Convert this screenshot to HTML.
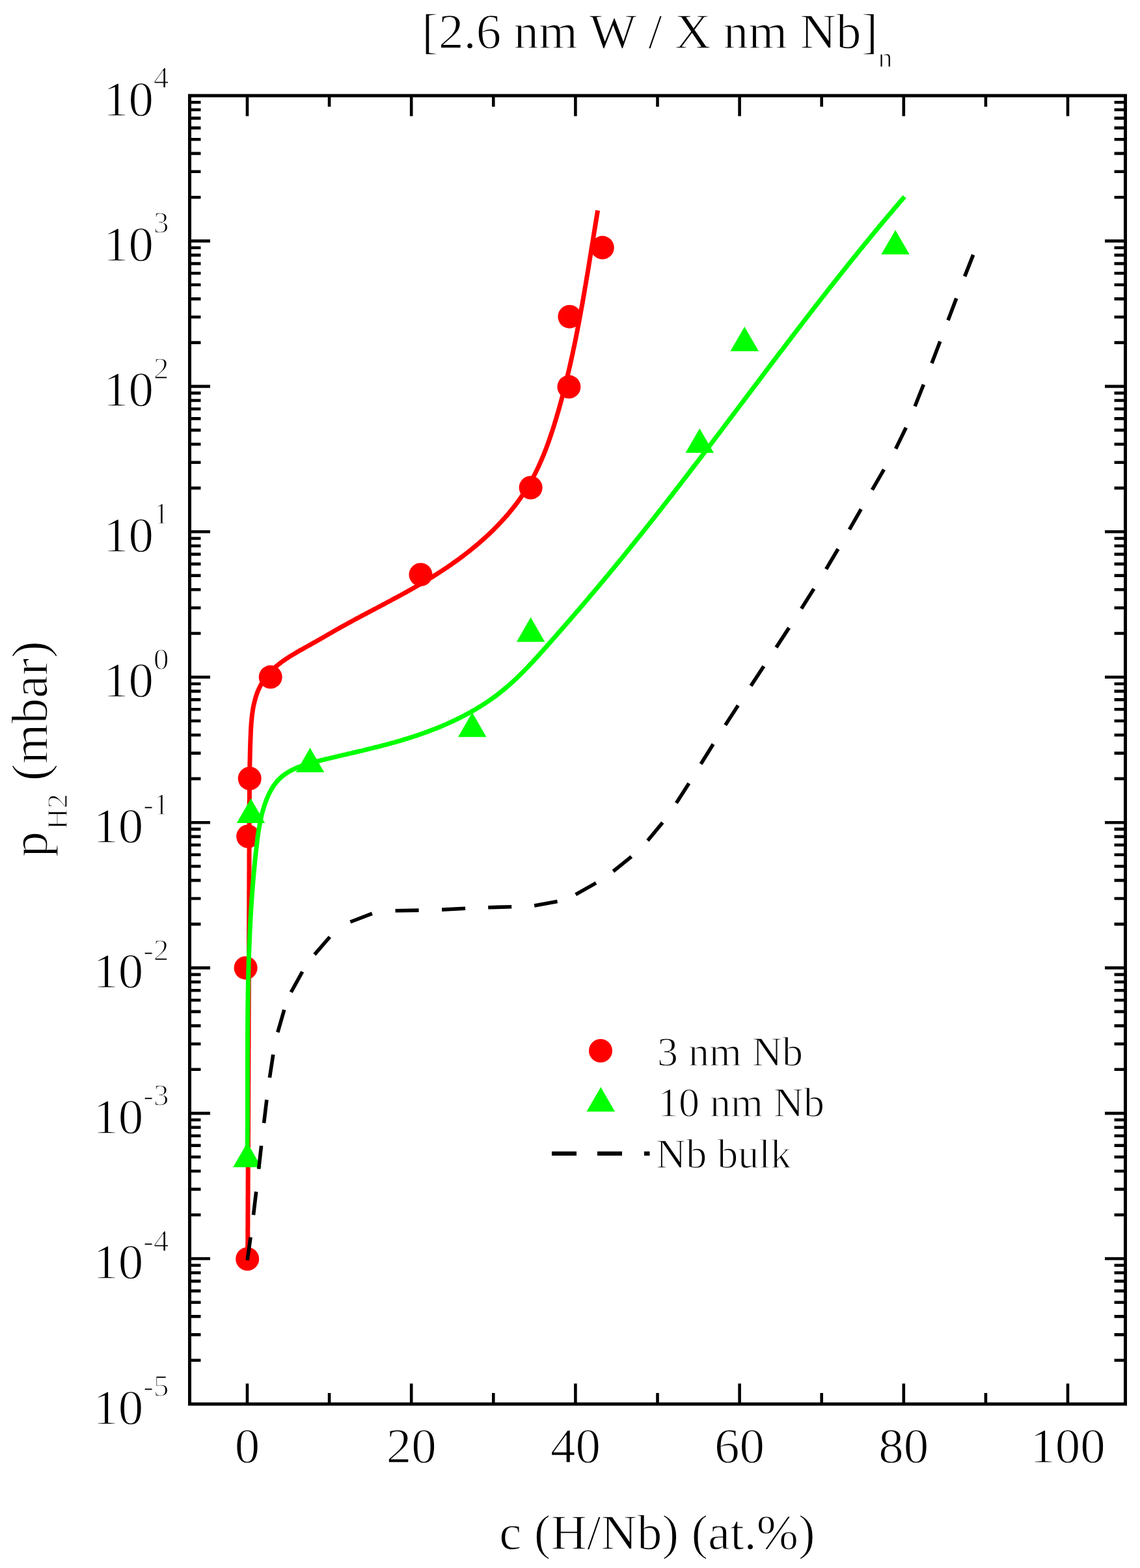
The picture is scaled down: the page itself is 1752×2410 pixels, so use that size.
<!DOCTYPE html>
<html><head><meta charset="utf-8"><title>[2.6 nm W / X nm Nb]n</title>
<style>
html,body{margin:0;padding:0;background:#fff;}
svg{display:block;}
text{font-family:"Liberation Serif","Times New Roman",serif;fill:#000;stroke:#fff;stroke-width:1.3px;paint-order:fill stroke;}
</style></head><body>
<svg xmlns="http://www.w3.org/2000/svg" width="1752" height="2410" viewBox="0 0 1752 2410">
<rect x="0" y="0" width="1752" height="2410" fill="#ffffff"/>
<path d="M293.5,2090.7H308.5 M1727.5,2090.7H1712.5 M293.5,2051.4H308.5 M1727.5,2051.4H1712.5 M293.5,2023.4H308.5 M1727.5,2023.4H1712.5 M293.5,2001.8H308.5 M1727.5,2001.8H1712.5 M293.5,1984.1H308.5 M1727.5,1984.1H1712.5 M293.5,1969.1H308.5 M1727.5,1969.1H1712.5 M293.5,1956.2H308.5 M1727.5,1956.2H1712.5 M293.5,1944.7H308.5 M1727.5,1944.7H1712.5 M293.5,1934.5H323.0 M1727.5,1934.5H1698.0 M293.5,1867.3H308.5 M1727.5,1867.3H1712.5 M293.5,1827.9H308.5 M1727.5,1827.9H1712.5 M293.5,1800.0H308.5 M1727.5,1800.0H1712.5 M293.5,1778.3H308.5 M1727.5,1778.3H1712.5 M293.5,1760.6H308.5 M1727.5,1760.6H1712.5 M293.5,1745.7H308.5 M1727.5,1745.7H1712.5 M293.5,1732.7H308.5 M1727.5,1732.7H1712.5 M293.5,1721.3H308.5 M1727.5,1721.3H1712.5 M293.5,1711.1H323.0 M1727.5,1711.1H1698.0 M293.5,1643.8H308.5 M1727.5,1643.8H1712.5 M293.5,1604.5H308.5 M1727.5,1604.5H1712.5 M293.5,1576.6H308.5 M1727.5,1576.6H1712.5 M293.5,1554.9H308.5 M1727.5,1554.9H1712.5 M293.5,1537.2H308.5 M1727.5,1537.2H1712.5 M293.5,1522.3H308.5 M1727.5,1522.3H1712.5 M293.5,1509.3H308.5 M1727.5,1509.3H1712.5 M293.5,1497.9H308.5 M1727.5,1497.9H1712.5 M293.5,1487.6H323.0 M1727.5,1487.6H1698.0 M293.5,1420.4H308.5 M1727.5,1420.4H1712.5 M293.5,1381.0H308.5 M1727.5,1381.0H1712.5 M293.5,1353.1H308.5 M1727.5,1353.1H1712.5 M293.5,1331.5H308.5 M1727.5,1331.5H1712.5 M293.5,1313.8H308.5 M1727.5,1313.8H1712.5 M293.5,1298.8H308.5 M1727.5,1298.8H1712.5 M293.5,1285.9H308.5 M1727.5,1285.9H1712.5 M293.5,1274.4H308.5 M1727.5,1274.4H1712.5 M293.5,1264.2H323.0 M1727.5,1264.2H1698.0 M293.5,1196.9H308.5 M1727.5,1196.9H1712.5 M293.5,1157.6H308.5 M1727.5,1157.6H1712.5 M293.5,1129.7H308.5 M1727.5,1129.7H1712.5 M293.5,1108.0H308.5 M1727.5,1108.0H1712.5 M293.5,1090.3H308.5 M1727.5,1090.3H1712.5 M293.5,1075.4H308.5 M1727.5,1075.4H1712.5 M293.5,1062.4H308.5 M1727.5,1062.4H1712.5 M293.5,1051.0H308.5 M1727.5,1051.0H1712.5 M293.5,1040.8H323.0 M1727.5,1040.8H1698.0 M293.5,973.5H308.5 M1727.5,973.5H1712.5 M293.5,934.2H308.5 M1727.5,934.2H1712.5 M293.5,906.2H308.5 M1727.5,906.2H1712.5 M293.5,884.6H308.5 M1727.5,884.6H1712.5 M293.5,866.9H308.5 M1727.5,866.9H1712.5 M293.5,851.9H308.5 M1727.5,851.9H1712.5 M293.5,839.0H308.5 M1727.5,839.0H1712.5 M293.5,827.5H308.5 M1727.5,827.5H1712.5 M293.5,817.3H323.0 M1727.5,817.3H1698.0 M293.5,750.1H308.5 M1727.5,750.1H1712.5 M293.5,710.7H308.5 M1727.5,710.7H1712.5 M293.5,682.8H308.5 M1727.5,682.8H1712.5 M293.5,661.1H308.5 M1727.5,661.1H1712.5 M293.5,643.4H308.5 M1727.5,643.4H1712.5 M293.5,628.5H308.5 M1727.5,628.5H1712.5 M293.5,615.5H308.5 M1727.5,615.5H1712.5 M293.5,604.1H308.5 M1727.5,604.1H1712.5 M293.5,593.9H323.0 M1727.5,593.9H1698.0 M293.5,526.6H308.5 M1727.5,526.6H1712.5 M293.5,487.3H308.5 M1727.5,487.3H1712.5 M293.5,459.4H308.5 M1727.5,459.4H1712.5 M293.5,437.7H308.5 M1727.5,437.7H1712.5 M293.5,420.0H308.5 M1727.5,420.0H1712.5 M293.5,405.1H308.5 M1727.5,405.1H1712.5 M293.5,392.1H308.5 M1727.5,392.1H1712.5 M293.5,380.7H308.5 M1727.5,380.7H1712.5 M293.5,370.4H323.0 M1727.5,370.4H1698.0 M293.5,303.2H308.5 M1727.5,303.2H1712.5 M293.5,263.8H308.5 M1727.5,263.8H1712.5 M293.5,235.9H308.5 M1727.5,235.9H1712.5 M293.5,214.3H308.5 M1727.5,214.3H1712.5 M293.5,196.6H308.5 M1727.5,196.6H1712.5 M293.5,181.6H308.5 M1727.5,181.6H1712.5 M293.5,168.7H308.5 M1727.5,168.7H1712.5 M293.5,157.2H308.5 M1727.5,157.2H1712.5 M380.0,2156.0V2126.5 M380.0,149.0V178.5 M506.1,2156.0V2141.0 M506.1,149.0V164.0 M632.2,2156.0V2126.5 M632.2,149.0V178.5 M758.3,2156.0V2141.0 M758.3,149.0V164.0 M884.4,2156.0V2126.5 M884.4,149.0V178.5 M1010.5,2156.0V2141.0 M1010.5,149.0V164.0 M1136.6,2156.0V2126.5 M1136.6,149.0V178.5 M1262.7,2156.0V2141.0 M1262.7,149.0V164.0 M1388.8,2156.0V2126.5 M1388.8,149.0V178.5 M1514.9,2156.0V2141.0 M1514.9,149.0V164.0 M1641.0,2156.0V2126.5 M1641.0,149.0V178.5" stroke="#000" stroke-width="4.6" fill="none"/>
<path d="M380.6,1934.9L380.6,1932.4 380.7,1929.9 380.7,1927.4 380.7,1924.9 380.7,1922.4 380.7,1919.9 380.7,1917.4 380.7,1914.9 380.7,1912.4 380.7,1909.9 380.8,1907.4 380.8,1904.9 380.8,1902.4 380.8,1899.9 380.8,1897.4 380.8,1894.9 380.8,1892.4 380.8,1889.9 380.8,1887.4 380.9,1884.9 380.9,1882.4 380.9,1879.9 380.9,1877.4 380.9,1874.9 380.9,1872.4 380.9,1869.9 380.9,1867.4 380.9,1864.9 380.9,1862.4 381.0,1859.9 381.0,1857.4 381.0,1854.9 381.0,1852.4 381.0,1849.9 381.0,1847.4 381.0,1844.9 381.0,1842.4 381.0,1839.9 381.1,1837.4 381.1,1834.9 381.1,1832.4 381.1,1829.9 381.1,1827.4 381.1,1824.9 381.1,1822.4 381.1,1819.9 381.1,1817.4 381.1,1814.9 381.2,1812.4 381.2,1809.9 381.2,1807.4 381.2,1804.9 381.2,1802.4 381.2,1799.9 381.2,1797.4 381.2,1794.9 381.2,1792.4 381.3,1789.9 381.3,1787.4 381.3,1784.9 381.3,1782.4 381.3,1779.9 381.3,1777.4 381.3,1774.9 381.3,1772.4 381.3,1769.9 381.3,1767.4 381.4,1764.9 381.4,1762.4 381.4,1759.9 381.4,1757.4 381.4,1754.9 381.4,1752.4 381.4,1749.9 381.4,1747.4 381.4,1744.9 381.4,1742.4 381.5,1739.9 381.5,1737.4 381.5,1734.9 381.5,1732.4 381.5,1729.9 381.5,1727.4 381.5,1724.9 381.5,1722.4 381.5,1719.9 381.5,1717.4 381.6,1714.9 381.6,1712.4 381.6,1709.9 381.6,1707.4 381.6,1704.9 381.6,1702.4 381.6,1699.9 381.6,1697.4 381.6,1694.9 381.6,1692.4 381.7,1689.9 381.7,1687.4 381.7,1684.9 381.7,1682.4 381.7,1679.9 381.7,1677.4 381.7,1674.9 381.7,1672.4 381.7,1669.9 381.7,1667.4 381.8,1664.9 381.8,1662.4 381.8,1659.9 381.8,1657.4 381.8,1654.9 381.8,1652.4 381.8,1649.9 381.8,1647.4 381.8,1644.9 381.8,1642.4 381.8,1639.9 381.9,1637.4 381.9,1634.9 381.9,1632.4 381.9,1629.9 381.9,1627.4 381.9,1624.9 381.9,1622.4 381.9,1619.9 381.9,1617.4 381.9,1614.9 382.0,1612.4 382.0,1609.9 382.0,1607.4 382.0,1604.9 382.0,1602.4 382.0,1599.9 382.0,1597.4 382.0,1594.9 382.0,1592.4 382.0,1589.9 382.1,1587.4 382.1,1584.9 382.1,1582.4 382.1,1579.9 382.1,1577.4 382.1,1574.9 382.1,1572.4 382.1,1569.9 382.1,1567.4 382.1,1564.9 382.1,1562.4 382.2,1559.9 382.2,1557.4 382.2,1554.9 382.2,1552.4 382.2,1549.9 382.2,1547.4 382.2,1544.9 382.2,1542.4 382.2,1539.9 382.2,1537.4 382.2,1534.9 382.3,1532.4 382.3,1529.9 382.3,1527.4 382.3,1524.9 382.3,1522.4 382.3,1519.9 382.3,1517.4 382.3,1514.9 382.3,1512.4 382.3,1509.9 382.4,1507.4 382.4,1504.9 382.4,1502.4 382.4,1499.9 382.4,1497.4 382.4,1494.9 382.4,1492.4 382.4,1489.9 382.4,1487.4 382.4,1484.9 382.4,1482.4 382.5,1479.9 382.5,1477.4 382.5,1474.9 382.5,1472.4 382.5,1469.9 382.5,1467.4 382.5,1464.9 382.5,1462.4 382.5,1459.9 382.5,1457.4 382.5,1454.9 382.6,1452.4 382.6,1449.9 382.6,1447.4 382.6,1444.9 382.6,1442.4 382.6,1439.9 382.6,1437.4 382.6,1434.9 382.6,1432.4 382.6,1429.9 382.6,1427.4 382.7,1424.9 382.7,1422.4 382.7,1419.9 382.7,1417.4 382.7,1414.9 382.7,1412.4 382.7,1409.9 382.7,1407.4 382.7,1404.9 382.7,1402.4 382.7,1399.9 382.8,1397.4 382.8,1394.9 382.8,1392.4 382.8,1389.9 382.8,1387.4 382.8,1384.9 382.8,1382.4 382.8,1379.9 382.8,1377.4 382.8,1374.9 382.8,1372.4 382.8,1369.9 382.9,1367.4 382.9,1364.9 382.9,1362.4 382.9,1359.9 382.9,1357.4 382.9,1354.9 382.9,1352.4 382.9,1349.9 382.9,1347.4 382.9,1344.9 382.9,1342.4 383.0,1339.9 383.0,1337.4 383.0,1334.9 383.0,1332.4 383.0,1329.9 383.0,1327.4 383.0,1324.9 383.0,1322.4 383.0,1319.9 383.0,1317.4 383.0,1314.9 383.0,1312.4 383.1,1309.9 383.1,1307.4 383.1,1304.9 383.1,1302.4 383.1,1299.9 383.1,1297.4 383.1,1294.9 383.1,1292.4 383.1,1289.9 383.1,1287.4 383.1,1284.9 383.2,1282.4 383.2,1279.9 383.2,1277.4 383.2,1274.9 383.2,1272.4 383.2,1269.9 383.2,1267.4 383.2,1264.9 383.2,1262.4 383.2,1259.9 383.2,1257.4 383.2,1254.9 383.3,1252.4 383.3,1249.9 383.3,1247.4 383.3,1244.9 383.3,1242.4 383.3,1239.9 383.3,1237.4 383.3,1234.9 383.3,1232.4 383.3,1229.9 383.4,1227.4 383.4,1224.9 383.4,1222.4 383.4,1219.9 383.4,1217.4 383.4,1214.9 383.4,1212.4 383.5,1209.9 383.5,1207.4 383.5,1204.9 383.5,1202.4 383.6,1199.9 383.6,1197.4 383.6,1194.9 383.6,1192.4 383.7,1189.9 383.7,1187.4 383.7,1184.9 383.8,1182.4 383.8,1179.9 383.9,1177.4 383.9,1174.9 383.9,1172.4 384.0,1169.9 384.1,1167.4 384.1,1164.9 384.2,1162.4 384.2,1159.9 384.3,1157.4 384.4,1154.9 384.4,1152.4 384.5,1149.9 384.6,1147.4 384.6,1144.9 384.7,1142.4 384.8,1139.9 384.9,1137.4 385.0,1134.9 385.1,1132.4 385.2,1129.9 385.3,1127.4 385.4,1124.9 385.5,1122.4 385.7,1119.9 385.8,1117.4 386.0,1114.9 386.1,1112.4 386.3,1110.0 386.6,1107.5 386.8,1105.0 387.0,1102.5 387.3,1100.0 387.6,1097.5 388.0,1095.0 388.3,1092.6 388.7,1090.1 389.1,1087.6 389.6,1085.2 390.1,1082.7 390.7,1080.3 391.3,1077.9 391.9,1075.4 392.6,1073.0 393.3,1070.6 394.1,1068.3 394.9,1065.9 395.8,1063.6 396.7,1061.3 397.8,1059.0 398.8,1056.7 399.9,1054.5 401.1,1052.3 402.4,1050.1 403.7,1048.0 405.0,1045.9 406.4,1043.8 407.9,1041.8 409.4,1039.8 411.0,1037.8 412.6,1035.9 414.3,1034.1 416.0,1032.2 417.7,1030.5 419.5,1028.7 421.3,1027.0 423.2,1025.3 425.1,1023.7 427.0,1022.1 429.0,1020.5 430.9,1019.0 432.9,1017.5 434.9,1016.0 437.0,1014.6 439.0,1013.2 441.1,1011.8 443.2,1010.4 445.3,1009.1 447.4,1007.7 449.6,1006.4 451.7,1005.2 453.9,1003.9 456.0,1002.6 458.2,1001.4 460.4,1000.1 462.5,998.9 464.7,997.7 466.9,996.4 469.1,995.2 471.3,994.0 473.4,992.8 475.6,991.6 477.8,990.4 480.0,989.1 482.2,987.9 484.3,986.7 486.5,985.4 488.7,984.2 490.9,983.0 493.0,981.7 495.2,980.5 497.4,979.2 499.5,978.0 501.7,976.7 503.9,975.5 506.0,974.2 508.2,973.0 510.4,971.7 512.5,970.5 514.7,969.3 516.9,968.0 519.1,966.8 521.2,965.6 523.4,964.3 525.6,963.1 527.8,961.9 530.0,960.7 532.2,959.5 534.3,958.3 536.5,957.1 538.7,955.9 540.9,954.7 543.1,953.5 545.3,952.3 547.5,951.1 549.7,949.9 551.9,948.8 554.1,947.6 556.3,946.4 558.6,945.2 560.8,944.1 563.0,942.9 565.2,941.7 567.4,940.6 569.6,939.4 571.8,938.2 574.0,937.0 576.2,935.9 578.4,934.7 580.7,933.5 582.9,932.4 585.1,931.2 587.3,930.0 589.5,928.9 591.7,927.7 593.9,926.5 596.1,925.3 598.3,924.2 600.5,923.0 602.7,921.8 604.9,920.6 607.1,919.4 609.3,918.3 611.5,917.1 613.7,915.9 615.9,914.7 618.1,913.5 620.3,912.3 622.5,911.1 624.7,909.9 626.9,908.6 629.1,907.4 631.2,906.2 633.4,905.0 635.6,903.7 637.8,902.5 639.9,901.3 642.1,900.0 644.3,898.8 646.4,897.5 648.6,896.2 650.7,895.0 652.9,893.7 655.0,892.4 657.2,891.1 659.3,889.8 661.4,888.5 663.6,887.2 665.7,885.9 667.8,884.6 669.9,883.2 672.0,881.9 674.1,880.5 676.2,879.2 678.3,877.8 680.4,876.4 682.5,875.1 684.6,873.7 686.7,872.3 688.7,870.9 690.8,869.5 692.8,868.0 694.9,866.6 696.9,865.2 699.0,863.7 701.0,862.3 703.0,860.8 705.1,859.3 707.1,857.9 709.1,856.4 711.1,854.9 713.1,853.3 715.1,851.8 717.0,850.3 719.0,848.8 721.0,847.2 722.9,845.7 724.9,844.1 726.8,842.5 728.7,840.9 730.7,839.3 732.6,837.7 734.5,836.1 736.4,834.5 738.3,832.8 740.2,831.2 742.0,829.5 743.9,827.9 745.8,826.2 747.6,824.5 749.4,822.8 751.3,821.1 753.1,819.4 754.9,817.7 756.7,815.9 758.5,814.2 760.2,812.4 762.0,810.6 763.7,808.8 765.5,807.0 767.2,805.2 768.9,803.4 770.6,801.6 772.3,799.7 774.0,797.9 775.7,796.0 777.3,794.2 779.0,792.3 780.6,790.4 782.2,788.5 783.8,786.5 785.4,784.6 787.0,782.7 788.5,780.7 790.1,778.8 791.6,776.8 793.1,774.8 794.6,772.8 796.1,770.8 797.6,768.7 799.0,766.7 800.4,764.7 801.9,762.6 803.3,760.5 804.7,758.5 806.0,756.4 807.4,754.3 808.7,752.1 810.0,750.0 811.3,747.9 812.6,745.7 813.9,743.6 815.1,741.4 816.3,739.2 817.5,737.0 818.7,734.8 819.9,732.6 821.1,730.4 822.2,728.2 823.3,726.0 824.4,723.7 825.5,721.5 826.6,719.2 827.7,717.0 828.7,714.7 829.7,712.4 830.7,710.1 831.7,707.8 832.7,705.5 833.7,703.2 834.7,700.9 835.6,698.6 836.5,696.3 837.5,694.0 838.4,691.6 839.3,689.3 840.2,687.0 841.0,684.6 841.9,682.3 842.7,679.9 843.6,677.6 844.4,675.2 845.2,672.8 846.0,670.5 846.8,668.1 847.6,665.7 848.4,663.4 849.2,661.0 850.0,658.6 850.7,656.2 851.5,653.8 852.2,651.5 852.9,649.1 853.7,646.7 854.4,644.3 855.1,641.9 855.8,639.5 856.5,637.1 857.2,634.7 857.9,632.3 858.6,629.9 859.3,627.5 860.0,625.1 860.6,622.7 861.3,620.3 862.0,617.8 862.6,615.4 863.3,613.0 863.9,610.6 864.5,608.2 865.2,605.8 865.8,603.3 866.4,600.9 867.1,598.5 867.7,596.1 868.3,593.7 868.9,591.2 869.5,588.8 870.1,586.4 870.7,584.0 871.3,581.5 871.9,579.1 872.5,576.7 873.0,574.2 873.6,571.8 874.2,569.4 874.7,566.9 875.3,564.5 875.9,562.1 876.4,559.6 877.0,557.2 877.5,554.7 878.0,552.3 878.6,549.9 879.1,547.4 879.7,545.0 880.2,542.5 880.7,540.1 881.2,537.6 881.7,535.2 882.2,532.7 882.8,530.3 883.3,527.8 883.8,525.4 884.3,522.9 884.8,520.5 885.3,518.0 885.7,515.6 886.2,513.1 886.7,510.7 887.2,508.2 887.7,505.8 888.1,503.3 888.6,500.9 889.1,498.4 889.6,496.0 890.0,493.5 890.5,491.0 890.9,488.6 891.4,486.1 891.8,483.7 892.3,481.2 892.7,478.8 893.2,476.3 893.6,473.8 894.1,471.4 894.5,468.9 895.0,466.5 895.4,464.0 895.8,461.5 896.3,459.1 896.7,456.6 897.1,454.1 897.6,451.7 898.0,449.2 898.4,446.8 898.8,444.3 899.2,441.8 899.7,439.4 900.1,436.9 900.5,434.4 900.9,432.0 901.3,429.5 901.7,427.0 902.1,424.6 902.6,422.1 903.0,419.6 903.4,417.2 903.8,414.7 904.2,412.2 904.6,409.8 905.0,407.3 905.4,404.8 905.8,402.4 906.2,399.9 906.6,397.4 907.0,395.0 907.4,392.5 907.8,390.0 908.2,387.6 908.6,385.1 909.0,382.6 909.4,380.2 909.8,377.7 910.2,375.2 910.6,372.8 911.0,370.3 911.4,367.8 911.8,365.3 912.2,362.9 912.6,360.4 913.0,357.9 913.4,355.5 913.8,353.0 914.2,350.5 914.6,348.1 915.0,345.6 915.4,343.1 915.8,340.7 916.2,338.2 916.6,335.7 917.0,333.3 917.4,330.8 917.8,328.3 918.2,325.9 918.6,323.4" stroke="#ff0000" stroke-width="7" fill="none" stroke-linejoin="round"/>
<circle cx="925.8" cy="380.6" r="18.0" fill="#ff0000"/>
<circle cx="875.4" cy="486.7" r="18.0" fill="#ff0000"/>
<circle cx="874.4" cy="594.6" r="18.0" fill="#ff0000"/>
<circle cx="815.6" cy="749.5" r="18.0" fill="#ff0000"/>
<circle cx="646.5" cy="883.2" r="18.0" fill="#ff0000"/>
<circle cx="415.7" cy="1040.6" r="18.0" fill="#ff0000"/>
<circle cx="383.7" cy="1196.5" r="18.0" fill="#ff0000"/>
<circle cx="381.2" cy="1285.5" r="18.0" fill="#ff0000"/>
<circle cx="377.6" cy="1487.7" r="18.0" fill="#ff0000"/>
<circle cx="380.2" cy="1935.0" r="18.0" fill="#ff0000"/>
<path d="M380.0,1781.3L380.0,1778.8 380.0,1776.3 380.0,1773.8 380.1,1771.3 380.1,1768.8 380.1,1766.3 380.1,1763.8 380.2,1761.3 380.2,1758.8 380.2,1756.3 380.2,1753.8 380.2,1751.3 380.3,1748.8 380.3,1746.3 380.3,1743.8 380.3,1741.3 380.3,1738.8 380.3,1736.3 380.3,1733.8 380.4,1731.3 380.4,1728.8 380.4,1726.3 380.4,1723.8 380.4,1721.3 380.4,1718.8 380.4,1716.3 380.4,1713.8 380.4,1711.3 380.4,1708.8 380.4,1706.3 380.4,1703.8 380.4,1701.3 380.4,1698.8 380.4,1696.3 380.4,1693.8 380.4,1691.3 380.4,1688.8 380.4,1686.3 380.4,1683.8 380.4,1681.3 380.4,1678.8 380.4,1676.3 380.4,1673.8 380.4,1671.3 380.4,1668.8 380.4,1666.3 380.4,1663.8 380.4,1661.3 380.4,1658.8 380.4,1656.3 380.4,1653.8 380.4,1651.3 380.4,1648.8 380.4,1646.3 380.4,1643.8 380.4,1641.3 380.4,1638.8 380.4,1636.3 380.4,1633.8 380.4,1631.3 380.4,1628.8 380.4,1626.3 380.4,1623.8 380.4,1621.3 380.4,1618.8 380.5,1616.3 380.5,1613.8 380.5,1611.3 380.5,1608.8 380.5,1606.3 380.5,1603.8 380.5,1601.3 380.5,1598.8 380.5,1596.3 380.5,1593.8 380.5,1591.3 380.5,1588.8 380.5,1586.3 380.6,1583.8 380.6,1581.3 380.6,1578.8 380.6,1576.3 380.6,1573.8 380.6,1571.3 380.6,1568.8 380.7,1566.3 380.7,1563.8 380.7,1561.3 380.7,1558.8 380.8,1556.3 380.8,1553.8 380.8,1551.3 380.8,1548.8 380.9,1546.3 380.9,1543.8 380.9,1541.3 381.0,1538.8 381.0,1536.3 381.0,1533.8 381.1,1531.3 381.1,1528.8 381.1,1526.3 381.2,1523.8 381.2,1521.3 381.3,1518.8 381.3,1516.3 381.4,1513.8 381.4,1511.3 381.5,1508.8 381.5,1506.3 381.6,1503.8 381.6,1501.3 381.7,1498.8 381.7,1496.3 381.8,1493.8 381.9,1491.3 381.9,1488.8 382.0,1486.3 382.1,1483.8 382.1,1481.3 382.2,1478.8 382.3,1476.3 382.4,1473.9 382.4,1471.4 382.5,1468.9 382.6,1466.4 382.7,1463.9 382.8,1461.4 382.9,1458.9 383.0,1456.4 383.1,1453.9 383.2,1451.4 383.3,1448.9 383.4,1446.4 383.5,1443.9 383.6,1441.4 383.7,1438.9 383.8,1436.4 383.9,1433.9 384.0,1431.4 384.1,1428.9 384.3,1426.4 384.4,1423.9 384.5,1421.4 384.6,1418.9 384.8,1416.4 384.9,1413.9 385.0,1411.4 385.2,1408.9 385.3,1406.4 385.5,1403.9 385.6,1401.4 385.8,1398.9 385.9,1396.4 386.1,1393.9 386.2,1391.4 386.4,1389.0 386.6,1386.5 386.7,1384.0 386.9,1381.5 387.1,1379.0 387.3,1376.5 387.5,1374.0 387.6,1371.5 387.8,1369.0 388.0,1366.5 388.2,1364.0 388.4,1361.5 388.6,1359.0 388.8,1356.5 389.0,1354.0 389.2,1351.6 389.4,1349.1 389.7,1346.6 389.9,1344.1 390.1,1341.6 390.3,1339.1 390.6,1336.6 390.8,1334.1 391.0,1331.6 391.3,1329.2 391.5,1326.7 391.8,1324.2 392.0,1321.7 392.3,1319.2 392.5,1316.7 392.8,1314.2 393.1,1311.7 393.3,1309.3 393.6,1306.8 393.9,1304.3 394.2,1301.8 394.5,1299.3 394.8,1296.8 395.1,1294.4 395.4,1291.9 395.7,1289.4 396.0,1286.9 396.3,1284.4 396.7,1282.0 397.0,1279.5 397.4,1277.0 397.8,1274.5 398.2,1272.1 398.7,1269.6 399.1,1267.2 399.6,1264.7 400.1,1262.3 400.6,1259.8 401.1,1257.4 401.7,1254.9 402.2,1252.5 402.8,1250.1 403.5,1247.7 404.2,1245.2 404.9,1242.8 405.6,1240.5 406.3,1238.1 407.1,1235.7 408.0,1233.3 408.8,1231.0 409.7,1228.7 410.7,1226.4 411.7,1224.1 412.7,1221.8 413.8,1219.5 414.9,1217.3 416.1,1215.1 417.3,1212.9 418.6,1210.8 419.9,1208.6 421.3,1206.6 422.8,1204.6 424.3,1202.6 426.0,1200.7 427.7,1198.8 429.4,1197.1 431.2,1195.4 433.1,1193.7 435.1,1192.1 437.1,1190.6 439.1,1189.2 441.2,1187.8 443.3,1186.5 445.5,1185.3 447.7,1184.1 449.9,1182.9 452.2,1181.9 454.4,1180.8 456.7,1179.8 459.1,1178.9 461.4,1178.0 463.7,1177.1 466.1,1176.3 468.5,1175.5 470.8,1174.7 473.2,1174.0 475.6,1173.3 478.0,1172.6 480.4,1171.9 482.8,1171.3 485.3,1170.6 487.7,1170.0 490.1,1169.4 492.5,1168.8 495.0,1168.2 497.4,1167.6 499.8,1167.0 502.3,1166.4 504.7,1165.9 507.1,1165.3 509.6,1164.7 512.0,1164.1 514.4,1163.6 516.9,1163.0 519.3,1162.4 521.7,1161.8 524.2,1161.3 526.6,1160.7 529.0,1160.1 531.5,1159.6 533.9,1159.0 536.3,1158.4 538.8,1157.9 541.2,1157.3 543.6,1156.7 546.1,1156.2 548.5,1155.6 550.9,1155.0 553.4,1154.4 555.8,1153.9 558.2,1153.3 560.7,1152.7 563.1,1152.1 565.5,1151.5 567.9,1150.9 570.4,1150.3 572.8,1149.7 575.2,1149.1 577.7,1148.5 580.1,1147.9 582.5,1147.3 584.9,1146.7 587.3,1146.0 589.8,1145.4 592.2,1144.8 594.6,1144.1 597.0,1143.5 599.4,1142.8 601.8,1142.2 604.2,1141.5 606.7,1140.8 609.1,1140.1 611.5,1139.5 613.9,1138.8 616.3,1138.1 618.7,1137.3 621.1,1136.6 623.4,1135.9 625.8,1135.2 628.2,1134.4 630.6,1133.7 633.0,1132.9 635.4,1132.1 637.7,1131.4 640.1,1130.6 642.5,1129.8 644.8,1129.0 647.2,1128.1 649.6,1127.3 651.9,1126.5 654.3,1125.6 656.6,1124.8 659.0,1123.9 661.3,1123.0 663.6,1122.1 666.0,1121.2 668.3,1120.3 670.6,1119.4 672.9,1118.5 675.3,1117.5 677.6,1116.6 679.9,1115.6 682.2,1114.6 684.5,1113.6 686.8,1112.6 689.0,1111.6 691.3,1110.6 693.6,1109.5 695.9,1108.5 698.1,1107.4 700.4,1106.3 702.6,1105.3 704.9,1104.2 707.1,1103.0 709.3,1101.9 711.6,1100.8 713.8,1099.6 716.0,1098.4 718.2,1097.3 720.4,1096.1 722.6,1094.9 724.8,1093.6 726.9,1092.4 729.1,1091.2 731.3,1089.9 733.4,1088.6 735.5,1087.3 737.7,1086.0 739.8,1084.7 741.9,1083.3 744.0,1082.0 746.1,1080.6 748.2,1079.2 750.3,1077.8 752.3,1076.4 754.4,1075.0 756.4,1073.6 758.4,1072.1 760.5,1070.6 762.5,1069.1 764.5,1067.6 766.5,1066.1 768.4,1064.6 770.4,1063.0 772.3,1061.4 774.3,1059.9 776.2,1058.3 778.1,1056.7 780.0,1055.0 781.9,1053.4 783.7,1051.7 785.6,1050.1 787.5,1048.4 789.3,1046.7 791.1,1045.0 793.0,1043.3 794.8,1041.6 796.6,1039.8 798.4,1038.1 800.2,1036.3 801.9,1034.6 803.7,1032.8 805.5,1031.0 807.2,1029.2 808.9,1027.4 810.7,1025.6 812.4,1023.8 814.1,1022.0 815.8,1020.2 817.6,1018.4 819.3,1016.6 821.0,1014.7 822.6,1012.9 824.3,1011.0 826.0,1009.2 827.7,1007.3 829.4,1005.5 831.0,1003.6 832.7,1001.7 834.4,999.9 836.0,998.0 837.7,996.1 839.3,994.3 841.0,992.4 842.7,990.5 844.3,988.7 846.0,986.8 847.6,984.9 849.3,983.0 850.9,981.1 852.6,979.3 854.2,977.4 855.9,975.5 857.5,973.6 859.2,971.7 860.8,969.9 862.5,968.0 864.1,966.1 865.7,964.2 867.4,962.3 869.0,960.4 870.7,958.6 872.3,956.7 873.9,954.8 875.6,952.9 877.2,951.0 878.9,949.1 880.5,947.2 882.1,945.3 883.8,943.4 885.4,941.5 887.0,939.7 888.7,937.8 890.3,935.9 891.9,934.0 893.5,932.1 895.2,930.2 896.8,928.3 898.4,926.4 900.0,924.5 901.7,922.6 903.3,920.7 904.9,918.8 906.5,916.8 908.1,914.9 909.7,913.0 911.4,911.1 913.0,909.2 914.6,907.3 916.2,905.4 917.8,903.5 919.4,901.6 921.0,899.7 922.6,897.7 924.2,895.8 925.8,893.9 927.4,892.0 929.0,890.1 930.6,888.1 932.2,886.2 933.8,884.3 935.4,882.4 937.0,880.4 938.6,878.5 940.2,876.6 941.8,874.7 943.4,872.7 945.0,870.8 946.6,868.9 948.1,866.9 949.7,865.0 951.3,863.1 952.9,861.1 954.5,859.2 956.1,857.3 957.6,855.3 959.2,853.4 960.8,851.4 962.4,849.5 963.9,847.5 965.5,845.6 967.1,843.7 968.6,841.7 970.2,839.8 971.8,837.8 973.4,835.9 974.9,833.9 976.5,832.0 978.0,830.0 979.6,828.1 981.2,826.1 982.7,824.2 984.3,822.2 985.9,820.3 987.4,818.3 989.0,816.3 990.5,814.4 992.1,812.4 993.6,810.5 995.2,808.5 996.7,806.6 998.3,804.6 999.8,802.6 1001.4,800.7 1002.9,798.7 1004.5,796.7 1006.0,794.8 1007.6,792.8 1009.1,790.9 1010.7,788.9 1012.2,786.9 1013.7,785.0 1015.3,783.0 1016.8,781.0 1018.4,779.0 1019.9,777.1 1021.4,775.1 1023.0,773.1 1024.5,771.2 1026.1,769.2 1027.6,767.2 1029.1,765.2 1030.7,763.3 1032.2,761.3 1033.7,759.3 1035.3,757.3 1036.8,755.4 1038.3,753.4 1039.8,751.4 1041.4,749.4 1042.9,747.5 1044.4,745.5 1046.0,743.5 1047.5,741.5 1049.0,739.5 1050.5,737.5 1052.1,735.6 1053.6,733.6 1055.1,731.6 1056.6,729.6 1058.1,727.6 1059.7,725.7 1061.2,723.7 1062.7,721.7 1064.2,719.7 1065.7,717.7 1067.3,715.7 1068.8,713.7 1070.3,711.7 1071.8,709.8 1073.3,707.8 1074.8,705.8 1076.4,703.8 1077.9,701.8 1079.4,699.8 1080.9,697.8 1082.4,695.8 1083.9,693.8 1085.4,691.9 1086.9,689.9 1088.5,687.9 1090.0,685.9 1091.5,683.9 1093.0,681.9 1094.5,679.9 1096.0,677.9 1097.5,675.9 1099.0,673.9 1100.5,671.9 1102.0,669.9 1103.6,667.9 1105.1,666.0 1106.6,664.0 1108.1,662.0 1109.6,660.0 1111.1,658.0 1112.6,656.0 1114.1,654.0 1115.6,652.0 1117.1,650.0 1118.6,648.0 1120.1,646.0 1121.6,644.0 1123.1,642.0 1124.6,640.0 1126.1,638.0 1127.7,636.0 1129.2,634.0 1130.7,632.0 1132.2,630.0 1133.7,628.0 1135.2,626.0 1136.7,624.0 1138.2,622.0 1139.7,620.0 1141.2,618.1 1142.7,616.1 1144.2,614.1 1145.7,612.1 1147.2,610.1 1148.7,608.1 1150.2,606.1 1151.7,604.1 1153.2,602.1 1154.7,600.1 1156.2,598.1 1157.7,596.1 1159.2,594.1 1160.8,592.1 1162.3,590.1 1163.8,588.1 1165.3,586.1 1166.8,584.1 1168.3,582.1 1169.8,580.1 1171.3,578.1 1172.8,576.1 1174.3,574.1 1175.8,572.1 1177.3,570.1 1178.8,568.1 1180.3,566.2 1181.8,564.2 1183.3,562.2 1184.8,560.2 1186.4,558.2 1187.9,556.2 1189.4,554.2 1190.9,552.2 1192.4,550.2 1193.9,548.2 1195.4,546.2 1196.9,544.2 1198.4,542.2 1199.9,540.2 1201.5,538.2 1203.0,536.3 1204.5,534.3 1206.0,532.3 1207.5,530.3 1209.0,528.3 1210.5,526.3 1212.1,524.3 1213.6,522.3 1215.1,520.3 1216.6,518.4 1218.1,516.4 1219.6,514.4 1221.1,512.4 1222.7,510.4 1224.2,508.4 1225.7,506.4 1227.2,504.5 1228.7,502.5 1230.3,500.5 1231.8,498.5 1233.3,496.5 1234.8,494.5 1236.4,492.6 1237.9,490.6 1239.4,488.6 1240.9,486.6 1242.5,484.6 1244.0,482.6 1245.5,480.7 1247.0,478.7 1248.6,476.7 1250.1,474.7 1251.6,472.8 1253.2,470.8 1254.7,468.8 1256.2,466.8 1257.8,464.9 1259.3,462.9 1260.8,460.9 1262.4,458.9 1263.9,457.0 1265.4,455.0 1267.0,453.0 1268.5,451.1 1270.1,449.1 1271.6,447.1 1273.1,445.1 1274.7,443.2 1276.2,441.2 1277.8,439.2 1279.3,437.3 1280.9,435.3 1282.4,433.4 1284.0,431.4 1285.5,429.4 1287.1,427.5 1288.6,425.5 1290.2,423.6 1291.7,421.6 1293.3,419.6 1294.8,417.7 1296.4,415.7 1297.9,413.8 1299.5,411.8 1301.1,409.9 1302.6,407.9 1304.2,405.9 1305.7,404.0 1307.3,402.0 1308.9,400.1 1310.4,398.1 1312.0,396.2 1313.6,394.3 1315.1,392.3 1316.7,390.4 1318.3,388.4 1319.9,386.5 1321.4,384.5 1323.0,382.6 1324.6,380.7 1326.2,378.7 1327.7,376.8 1329.3,374.8 1330.9,372.9 1332.5,371.0 1334.1,369.0 1335.7,367.1 1337.2,365.2 1338.8,363.2 1340.4,361.3 1342.0,359.4 1343.6,357.4 1345.2,355.5 1346.8,353.6 1348.4,351.7 1350.0,349.7 1351.6,347.8 1353.2,345.9 1354.8,344.0 1356.4,342.1 1358.0,340.1 1359.6,338.2 1361.2,336.3 1362.8,334.4 1364.4,332.5 1366.0,330.6 1367.6,328.7 1369.3,326.8 1370.9,324.9 1372.5,322.9 1374.1,321.0 1375.7,319.1 1377.3,317.2 1379.0,315.3 1380.6,313.4 1382.2,311.5 1383.8,309.6 1385.5,307.7 1387.1,305.8 1388.7,304.0 1390.1,302.4" stroke="#00ff00" stroke-width="7" fill="none" stroke-linejoin="round"/>
<polygon points="1376.1,353.4 1354.3,391.1 1397.8,391.1" fill="#00ff00"/>
<polygon points="1144.2,502.1 1122.5,539.8 1166.0,539.8" fill="#00ff00"/>
<polygon points="1075.2,658.4 1053.5,696.1 1097.0,696.1" fill="#00ff00"/>
<polygon points="815.6,948.7 793.9,986.4 837.4,986.4" fill="#00ff00"/>
<polygon points="725.8,1095.1 704.0,1132.8 747.5,1132.8" fill="#00ff00"/>
<polygon points="476.5,1149.3 454.8,1187.0 498.2,1187.0" fill="#00ff00"/>
<polygon points="385.5,1227.3 363.8,1265.0 407.2,1265.0" fill="#00ff00"/>
<polygon points="380.0,1756.2 358.2,1793.9 401.8,1793.9" fill="#00ff00"/>
<path d="M380.1,1937.1L385.1,1901.7 M389.5,1867.3L393.7,1831.6 M397.6,1796.7L401.6,1761.0 M405.6,1726.2L409.9,1690.4 M414.4,1656.4L419.8,1620.9 M426.8,1586.6L436.8,1552.0 M447.3,1525.0L464.7,1493.5 M483.4,1467.1L506.9,1440.0 M538.4,1417.0L571.9,1404.1 M607.6,1399.7L643.6,1399.1 M679.1,1398.1L715.1,1396.3 M750.2,1394.7L786.2,1393.8 M821.2,1392.1L856.6,1385.6 M884.7,1374.9L916.0,1357.1 M942.4,1339.2L970.4,1316.6 M995.4,1292.0L1018.3,1264.3 M1039.4,1234.2L1058.8,1203.9 M1077.1,1174.3L1096.1,1143.7 M1114.7,1114.5L1134.3,1084.3 M1154.0,1054.1L1173.8,1024.0 M1192.9,995.1L1212.6,964.9 M1231.6,935.5L1250.8,905.1 M1269.6,874.7L1288.0,843.8 M1305.4,813.8L1323.3,782.6 M1340.4,752.8L1358.5,721.7 M1376.6,689.7L1392.4,657.3 M1406.1,624.5L1419.4,591.0 M1432.0,558.3L1444.8,524.7 M1457.0,492.2L1469.8,458.6 M1482.6,424.9L1495.7,391.6" stroke="#000" stroke-width="5.6" fill="none"/>
<rect x="291.5" y="147.0" width="1438.0" height="2011.0" fill="none" stroke="#000" stroke-width="5"/>
<text x="380.0" y="2248" font-size="77" text-anchor="middle">0</text>
<text x="632.2" y="2248" font-size="77" text-anchor="middle">20</text>
<text x="884.4" y="2248" font-size="77" text-anchor="middle">40</text>
<text x="1136.6" y="2248" font-size="77" text-anchor="middle">60</text>
<text x="1388.8" y="2248" font-size="77" text-anchor="middle">80</text>
<text x="1641.0" y="2248" font-size="77" text-anchor="middle">100</text>
<text x="259.5" y="2188.5" font-size="77" text-anchor="end">10<tspan font-size="47" dy="-42.5">-5</tspan></text>
<text x="259.5" y="1965.0" font-size="77" text-anchor="end">10<tspan font-size="47" dy="-42.5">-4</tspan></text>
<text x="259.5" y="1741.6" font-size="77" text-anchor="end">10<tspan font-size="47" dy="-42.5">-3</tspan></text>
<text x="259.5" y="1518.1" font-size="77" text-anchor="end">10<tspan font-size="47" dy="-42.5">-2</tspan></text>
<text x="259.5" y="1294.7" font-size="77" text-anchor="end">10<tspan font-size="47" dy="-42.5">-1</tspan></text>
<text x="259.5" y="1071.3" font-size="77" text-anchor="end">10<tspan font-size="47" dy="-42.5">0</tspan></text>
<text x="259.5" y="847.8" font-size="77" text-anchor="end">10<tspan font-size="47" dy="-42.5">1</tspan></text>
<text x="259.5" y="624.4" font-size="77" text-anchor="end">10<tspan font-size="47" dy="-42.5">2</tspan></text>
<text x="259.5" y="400.9" font-size="77" text-anchor="end">10<tspan font-size="47" dy="-42.5">3</tspan></text>
<text x="259.5" y="177.5" font-size="77" text-anchor="end">10<tspan font-size="47" dy="-42.5">4</tspan></text>
<text x="1010" y="73.5" font-size="77" text-anchor="middle">[2.6 nm W / X nm Nb]<tspan font-size="45" dy="29">n</tspan></text>
<text x="1010" y="2380.5" font-size="77" text-anchor="middle">c (H/Nb) (at.%)</text>
<text transform="translate(72,1317.5) rotate(-90)" x="0" y="0" font-size="79">p<tspan font-size="45" dx="3" dy="31">H2</tspan><tspan dy="-31"> (mbar)</tspan></text>
<circle cx="923" cy="1615" r="18.0" fill="#ff0000"/>
<text x="1010" y="1637.5" font-size="64">3 nm Nb</text>
<polygon points="923.3,1670.8 901.5,1708.5 945.0,1708.5" fill="#00ff00"/>
<text x="1011" y="1715.5" font-size="64">10 nm Nb</text>
<path d="M848,1773H886M918,1773H956M990,1773H998.5" stroke="#000" stroke-width="6.5" fill="none"/>
<text x="1008" y="1795" font-size="64">Nb bulk</text>
</svg>
</body></html>
